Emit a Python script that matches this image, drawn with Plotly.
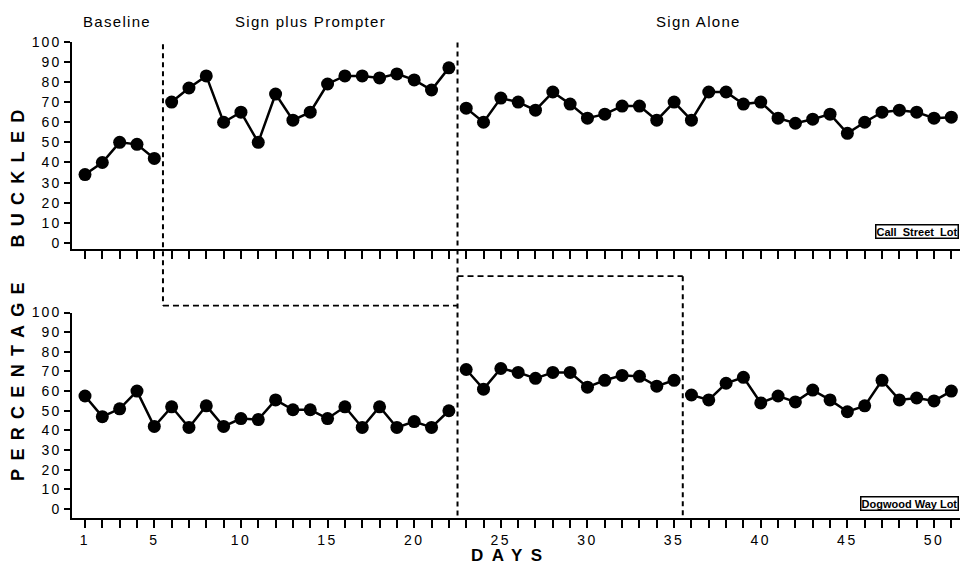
import plotly.graph_objects as go

days = list(range(1, 52))
call_street = [34, 40, 50, 49, 42, 70, 77, 83, 60, 65, 50, 74, 61, 65, 79, 83, 83, 82, 84, 81,
               76, 87, 67, 60, 72, 70, 66, 75, 69, 62, 64, 68, 68, 61, 70, 61, 75, 75, 69, 70,
               62, 59.5, 61.5, 64, 54.5, 60, 65, 66, 65, 62, 62.5]
dogwood = [57.5, 47, 51, 60, 42, 52, 41.5, 52.5, 42, 46, 45.5, 55.5, 50.5, 50.5, 46, 52, 41.5,
           52, 41.5, 44.5, 41.5, 50, 71, 61, 71.5, 69.5, 66.5, 69.5, 69.5, 62, 65.5, 68, 67.5,
           62.5, 65.5, 58, 55.5, 64, 67, 54, 57.5, 54.5, 60.5, 55.5, 49.5, 52.5, 65.5, 55.5,
           56.5, 55, 60]
phase_top = [5.5, 22.5]      # phase changes, Call Street Lot
phase_bottom = [22.5, 35.5]  # phase changes, Dogwood Way Lot
phase_names = ["Baseline", "Sign plus Prompter", "Sign Alone"]
phase_label_x = [2.85, 14.0, 36.4]
y_ticks = list(range(0, 101, 10))
x_label_days = [1, 5, 10, 15, 20, 25, 30, 35, 40, 45, 50]

W, H = 960, 565
FONT = "Liberation Sans, Arial, Helvetica, sans-serif"


def py(px):
    return 1 - px / H


def split(xs, ys, bounds):
    segs = []
    edges = [-1e9] + bounds + [1e9]
    for a, b in zip(edges[:-1], edges[1:]):
        sx = [x for x in xs if a < x < b]
        sy = [y for x, y in zip(xs, ys) if a < x < b]
        segs.append((sx, sy))
    return segs


def ls(t, sp):
    return f'<span style="letter-spacing:{sp}px">{t}</span>'


fig = go.Figure()
for (sx, sy) in split(days, call_street, phase_top):
    fig.add_trace(go.Scatter(x=sx, y=sy, xaxis="x", yaxis="y", mode="lines+markers",
                             line=dict(color="black", width=2.5),
                             marker=dict(color="black", size=13), showlegend=False))
for (sx, sy) in split(days, dogwood, phase_bottom):
    fig.add_trace(go.Scatter(x=sx, y=sy, xaxis="x2", yaxis="y2", mode="lines+markers",
                             line=dict(color="black", width=2.5),
                             marker=dict(color="black", size=13), showlegend=False))

xcommon = dict(domain=[72 / W, 1], range=[0.25, 51.5], showline=True, linewidth=2,
               linecolor="black", ticks="outside", ticklen=8, tickwidth=2, tickcolor="black",
               tickvals=days, showgrid=False, zeroline=False, fixedrange=True)
ycommon = dict(showline=True, linewidth=2, linecolor="black", ticks="outside", ticklen=6,
               tickwidth=1.5, tickcolor="black", tickvals=y_ticks,
               ticktext=[ls(v, 2) for v in y_ticks], showgrid=False, zeroline=False,
               tickfont=dict(family=FONT, size=14, color="black"), fixedrange=True)

fig.update_layout(
    width=W, height=H, margin=dict(l=0, r=0, t=0, b=0),
    paper_bgcolor="white", plot_bgcolor="white", showlegend=False,
    xaxis=dict(anchor="y", showticklabels=False, **xcommon),
    yaxis=dict(anchor="x", domain=[py(245), py(34.3)], range=[-2.8, 100], **ycommon),
    xaxis2=dict(anchor="y2", showticklabels=True,
                ticktext=[ls(d, 2.5) if d in x_label_days else "" for d in days],
                tickfont=dict(family=FONT, size=14, color="black"), **xcommon),
    yaxis2=dict(anchor="x2", domain=[py(519), py(310)], range=[-4.5, 100], **ycommon),
)

dash_v = dict(color="black", width=2, dash="5px,4px")
dash_h = dict(color="black", width=1.6, dash="6px,4px")
shapes = [
    dict(type="line", xref="x", yref="paper", x0=phase_top[0], x1=phase_top[0], y0=py(37), y1=py(303), line=dash_v),
    dict(type="line", xref="x", yref="paper", x0=phase_top[0], x1=phase_bottom[0], y0=py(303), y1=py(303), line=dash_h),
    dict(type="line", xref="x", yref="paper", x0=phase_top[1], x1=phase_top[1], y0=py(35), y1=py(519), line=dash_v),
    dict(type="line", xref="x", yref="paper", x0=phase_top[1], x1=phase_bottom[1], y0=py(273), y1=py(273), line=dash_h),
    dict(type="line", xref="x", yref="paper", x0=phase_bottom[1], x1=phase_bottom[1], y0=py(273), y1=py(519), line=dash_v),
]
fig.update_layout(shapes=shapes)

ann = []
for name, xc in zip(phase_names, phase_label_x):
    ann.append(dict(x=xc, y=py(14), xref="x", yref="paper", text=ls(name, 1.3), showarrow=False,
                    font=dict(family=FONT, size=15, color="black"), xanchor="center", yanchor="middle"))
ann.append(dict(x=18 / W, y=py(289), xref="paper", yref="paper", textangle=-90, showarrow=False,
                text=ls("PERCENTAGE&nbsp;&nbsp;BUCKLED", 8.3),
                font=dict(family=FONT, size=18, color="black", weight="bold"),
                xanchor="center", yanchor="middle"))
ann.append(dict(x=511 / W, y=py(557), xref="paper", yref="paper", showarrow=False,
                text=ls("DAYS", 8.5), font=dict(family=FONT, size=17, color="black", weight="bold"),
                xanchor="center", yanchor="middle"))
ann.append(dict(x=959 / W, y=py(228), xref="paper", yref="paper", showarrow=False,
                text="Call&nbsp; Street&nbsp; Lot", bordercolor="black", borderwidth=1.5, borderpad=0,
                bgcolor="white",
                font=dict(family=FONT, size=11, color="black", weight="bold"),
                xanchor="right", yanchor="middle"))
ann.append(dict(x=959 / W, y=py(504), xref="paper", yref="paper", showarrow=False,
                text="Dogwood Way Lot", bordercolor="black", borderwidth=1.5, borderpad=0,
                bgcolor="white",
                font=dict(family=FONT, size=11, color="black", weight="bold"),
                xanchor="right", yanchor="middle"))
fig.update_layout(annotations=ann)

fig.write_html("out.html", config={"displayModeBar": False},
               post_script="document.body.style.margin='0';document.body.style.overflow='hidden';")
